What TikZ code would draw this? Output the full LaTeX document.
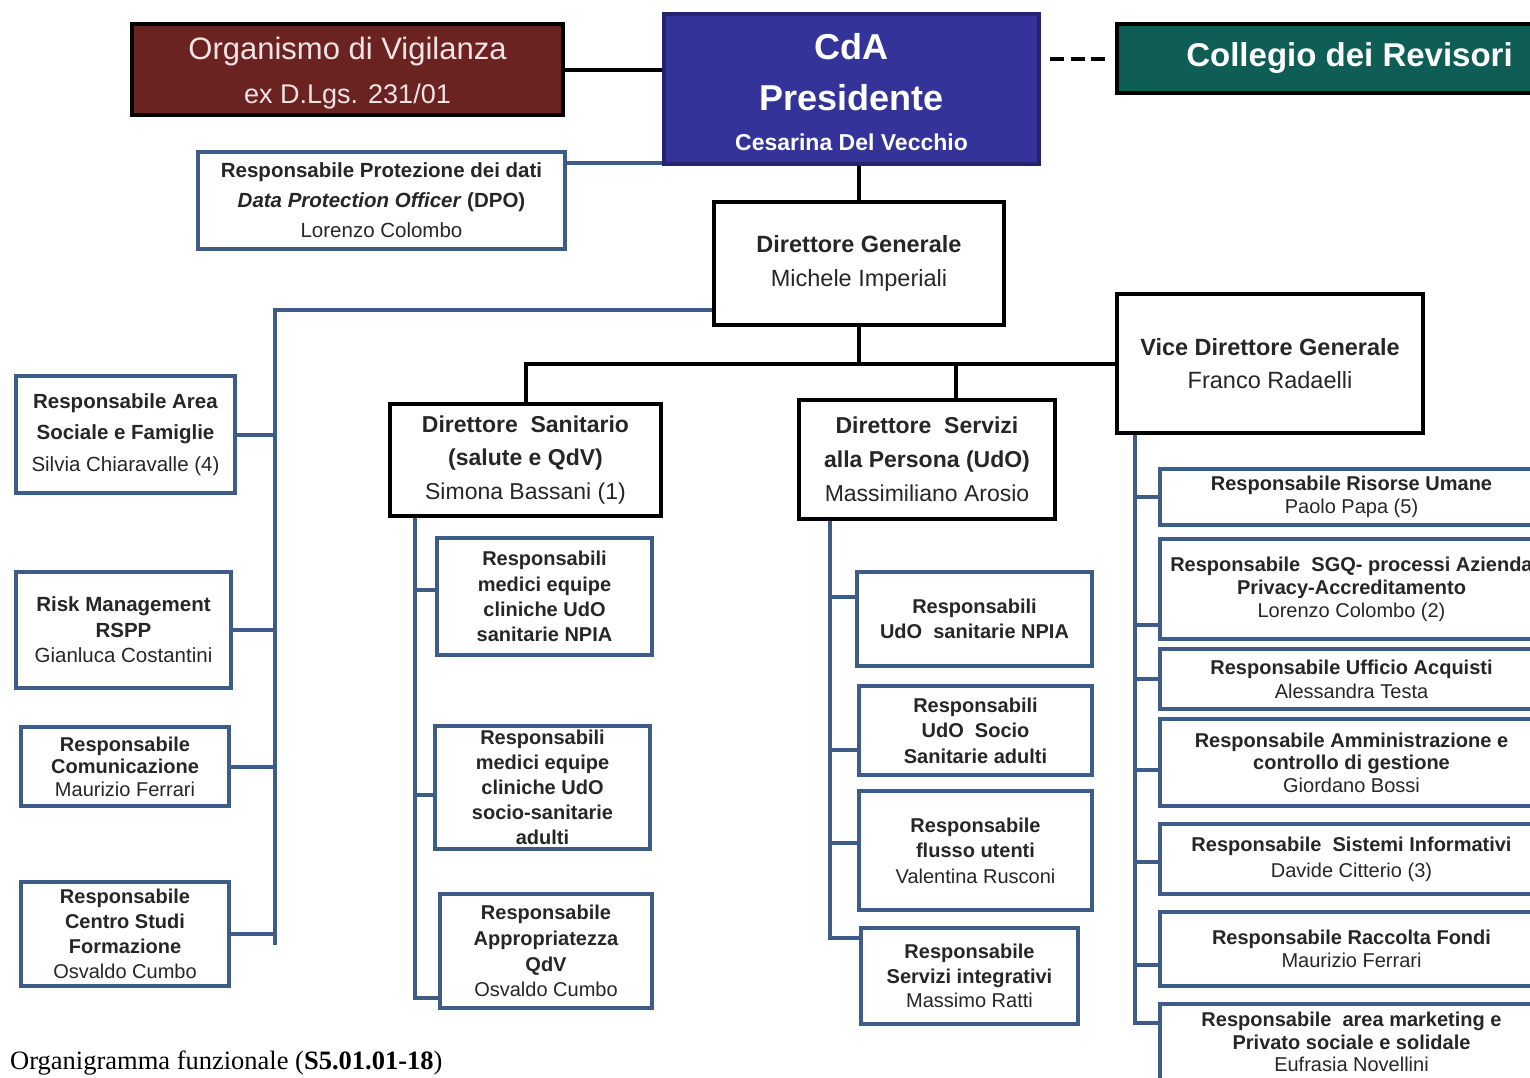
\documentclass[tikz,border=0pt]{standalone}
\usepackage{fontspec}
\setmainfont{Liberation Sans}
\newfontfamily\capfont{Liberation Serif}
\usepackage{tikz}
\usetikzlibrary{positioning}
\definecolor{vigred}{RGB}{107,35,33}
\definecolor{vigtext}{RGB}{243,227,227}
\definecolor{cdablue}{RGB}{51,51,153}
\definecolor{cdaedge}{RGB}{35,35,110}
\definecolor{revgreen}{RGB}{14,94,86}
\definecolor{staffblue}{RGB}{62,92,136}
\newcommand{\sz}[2]{\fontsize{#1}{#2}\selectfont}

\begin{document}
\begin{tikzpicture}[x=1pt,y=-1pt]
    \tikzset{box/.style = {shape=rectangle,draw=staffblue,line width=4pt,fill=white,align=center,inner sep=0pt,text=black!85}}
    \tikzset{head/.style = {box,draw=black,line width=4.5pt}}
    \tikzset{staff/.style = {draw=staffblue,line width=4pt}}
    \tikzset{edge/.style = {draw=black,line width=4pt}}
    \path[use as bounding box,fill=white] (0,0) rectangle (1530,1077);
    % vertices
    \node[box,draw=black,fill=vigred,text=vigtext,minimum width=431pt,minimum height=91pt,font={\sz{31}{44}}] (1) at (347.5,69.5) {\rule{0pt}{30pt}Organismo di Vigilanza\\ {\sz{27}{44}ex D.Lgs. 231/01}};
    \node[box,draw=cdaedge,fill=cdablue,text=white,minimum width=375pt,minimum height=150pt,font={\bfseries\sz{36}{53}}] (2) at (851.5,89) {\rule{0pt}{32pt}CdA\\[-2pt] Presidente\\[-13pt] {\sz{23}{53}Cesarina Del Vecchio}};
    \node[box,draw=black,fill=revgreen,text=white,minimum width=465pt,minimum height=69pt,font={\bfseries\sz{33}{40}}] (3) at (1349.5,58.5) {Collegio dei Revisori};
    \node[box,minimum width=367pt,minimum height=97pt,font={\sz{20.5}{30}}] (4) at (381.5,200.5) {\textbf{Responsabile Protezione dei dati}\\ \textbf{\textit{Data Protection Officer} (DPO)}\\ Lorenzo Colombo};
    \node[head,minimum width=290pt,minimum height=123pt,font={\sz{23.5}{34}}] (5) at (859,263.5) {\textbf{Direttore Generale}\\ Michele Imperiali};
    \node[head,minimum width=306pt,minimum height=139pt,font={\sz{23.5}{33}}] (6) at (1270,363.5) {\textbf{Vice Direttore Generale}\\ Franco\ Radaelli};
    \node[head,minimum width=271pt,minimum height=112pt,font={\sz{23}{33.5}}] (7) at (525.5,460) {\textbf{Direttore\ \ Sanitario}\\ \textbf{(salute e QdV)}\\ Simona Bassani (1)};
    \node[head,minimum width=256pt,minimum height=119pt,font={\sz{23}{34}}] (8) at (927,459.5) {\textbf{Direttore\ \ Servizi}\\ \textbf{alla Persona (UdO)}\\ Massimiliano\ Arosio};
    % staff, left column
    \node[box,minimum width=219pt,minimum height=117pt,font={\sz{20.5}{31.5}}] (9) at (125.5,434.5) {\textbf{Responsabile Area}\\ \textbf{Sociale e Famiglie}\\ Silvia Chiaravalle (4)};
    \node[box,minimum width=215pt,minimum height=116pt,font={\sz{20.5}{25.5}}] (10) at (123.5,630) {\textbf{Risk Management}\\ \textbf{RSPP}\\ Gianluca Costantini};
    \node[box,minimum width=208pt,minimum height=79pt,font={\sz{20}{22.5}}] (11) at (125,766.5) {\textbf{Responsabile}\\ \textbf{Comunicazione}\\ Maurizio Ferrari};
    \node[box,minimum width=208pt,minimum height=104pt,font={\sz{20}{25}}] (12) at (125,934) {\textbf{Responsabile}\\ \textbf{Centro Studi}\\ \textbf{Formazione}\\ Osvaldo Cumbo};
    % under Direttore Sanitario
    \node[box,minimum width=215pt,minimum height=117pt,font={\sz{20}{25.3}}] (13) at (544.5,596.5) {\textbf{Responsabili}\\ \textbf{medici equipe}\\ \textbf{cliniche UdO}\\ \textbf{sanitarie NPIA}};
    \node[box,minimum width=215pt,minimum height=123pt,font={\sz{20}{25}}] (14) at (542.5,787.5) {\textbf{Responsabili}\\ \textbf{medici equipe}\\ \textbf{cliniche UdO}\\ \textbf{socio-sanitarie}\\ \textbf{adulti}};
    \node[box,minimum width=212pt,minimum height=114pt,font={\sz{20}{25.7}}] (15) at (546,951) {\textbf{Responsabile}\\ \textbf{Appropriatezza}\\ \textbf{QdV}\\ Osvaldo Cumbo};
    % under Direttore Servizi
    \node[box,minimum width=235pt,minimum height=94pt,font={\sz{20}{25}}] (16) at (974.5,619) {\textbf{Responsabili}\\ \textbf{UdO\ \ sanitarie NPIA}};
    \node[box,minimum width=233pt,minimum height=89pt,font={\sz{20}{25.5}}] (17) at (975.5,730.5) {\textbf{Responsabili}\\ \textbf{UdO\ \ Socio}\\ \textbf{Sanitarie adulti}};
    \node[box,minimum width=233pt,minimum height=119pt,font={\sz{20}{25.5}}] (18) at (975.5,850.5) {\textbf{Responsabile}\\ \textbf{flusso utenti}\\ Valentina Rusconi};
    \node[box,minimum width=217pt,minimum height=96pt,font={\sz{20}{24.5}}] (19) at (969.5,976) {\textbf{Responsabile}\\ \textbf{Servizi integrativi}\\ Massimo Ratti};
    % under Vice Direttore
    \node[box,minimum width=383pt,minimum height=56pt,font={\sz{20}{23}}] (20) at (1351.5,497) {\textbf{Responsabile Risorse Umane}\\ Paolo Papa (5)};
    \node[box,minimum width=383pt,minimum height=100pt,font={\sz{20}{23}}] (21) at (1351.5,589) {\textbf{Responsabile\ \ SGQ- processi Azienda}\\ \textbf{Privacy-Accreditamento}\\ Lorenzo Colombo (2)};
    \node[box,minimum width=383pt,minimum height=60pt,font={\sz{20}{24}}] (22) at (1351.5,679) {\textbf{Responsabile Ufficio Acquisti}\\ Alessandra Testa};
    \node[box,minimum width=383pt,minimum height=87pt,font={\sz{20}{22.5}}] (23) at (1351.5,762.5) {\textbf{Responsabile Amministrazione e}\\ \textbf{controllo di gestione}\\ Giordano Bossi};
    \node[box,minimum width=383pt,minimum height=70pt,font={\sz{20}{26}}] (24) at (1351.5,859) {\textbf{Responsabile\ \ Sistemi Informativi}\\ Davide Citterio (3)};
    \node[box,minimum width=383pt,minimum height=74pt,font={\sz{20}{23}}] (25) at (1351.5,949) {\textbf{Responsabile Raccolta Fondi}\\ Maurizio Ferrari};
    \node[box,minimum width=383pt,minimum height=76pt,font={\sz{20}{22.5}}] (26) at (1351.5,1042) {\textbf{Responsabile\ \ area marketing e}\\ \textbf{Privato sociale e solidale}\\ Eufrasia Novellini};
    \node[anchor=base west,inner sep=0pt,font={\capfont\sz{26.5}{30}}] (27) at (10,1069) {Organigramma funzionale (\textbf{S5.01.01-18})};
    % edges
    \draw[edge] (1.east) -- (1.east -| 2.west);
    \draw[staff] ([yshift=38pt]4.east) -- ([yshift=38pt]4.east -| 2.west);
    \draw[edge,dash pattern=on 14pt off 6.5pt] ([xshift=9pt]2.east |- 3.west) -- ([xshift=-10pt]3.west);
    \draw[edge] (5.north) -- (5.north |- 2.south);
    \draw[edge] (5.south) -- (5.south |- 6.west);
    \draw[edge] (7.north) |- (6.west);
    \draw[edge] ([xshift=29pt]8.north) -- ([xshift=29pt]8.north |- 6.west);
    % staff line
    \coordinate (s) at (275,945);
    \draw[staff] ([yshift=-46pt]5.west) -| (s);
    \draw[staff] (9.east) -- (9.east -| s);
    \draw[staff] (10.east) -- (10.east -| s);
    \draw[staff] (11.east) -- (11.east -| s);
    \draw[staff] (12.east) -- (12.east -| s);
    % Direttore Sanitario
    \coordinate (t1) at ([xshift=27pt]7.south west);
    \draw[staff] (t1) |- ([yshift=12pt]15.south west);
    \draw[staff] ([yshift=6.5pt]13.west) -- ([yshift=6.5pt]13.west -| t1);
    \draw[staff] ([yshift=-7.5pt]14.west) -- ([yshift=-7.5pt]14.west -| t1);
    % Direttore Servizi
    \coordinate (t2) at ([xshift=33pt]8.south west);
    \draw[staff] (t2) |- ([yshift=-12pt]19.north west);
    \draw[staff] ([yshift=22pt]16.west) -- ([yshift=22pt]16.west -| t2);
    \draw[staff] ([yshift=-19.5pt]17.west) -- ([yshift=-19.5pt]17.west -| t2);
    \draw[staff] ([yshift=7.5pt]18.west) -- ([yshift=7.5pt]18.west -| t2);
    % Vice Direttore
    \coordinate (t3) at ([xshift=20pt]6.south west);
    \draw[staff] (t3) |- ([yshift=-21pt]26.north west);
    \draw[staff] (20.west) -- (20.west -| t3);
    \draw[staff] ([yshift=-36pt]21.west) -- ([yshift=-36pt]21.west -| t3);
    \draw[staff] (22.west) -- (22.west -| t3);
    \draw[staff] ([yshift=-7.5pt]23.west) -- ([yshift=-7.5pt]23.west -| t3);
    \draw[staff] ([yshift=-3pt]24.west) -- ([yshift=-3pt]24.west -| t3);
    \draw[staff] ([yshift=-16pt]25.west) -- ([yshift=-16pt]25.west -| t3);
\end{tikzpicture}
\end{document}
